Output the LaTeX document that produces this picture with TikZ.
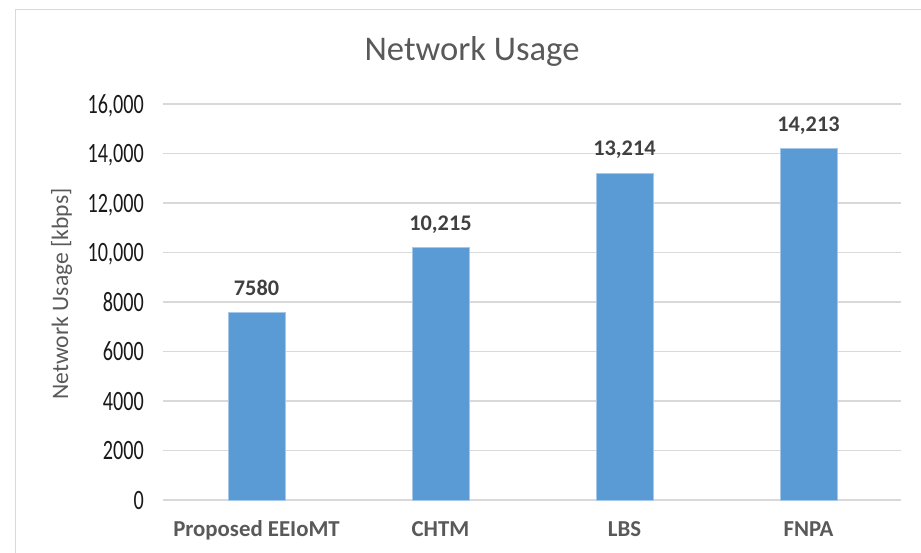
\documentclass[tikz,border=0pt]{standalone}
\usepackage{fontspec}
\setmainfont{Carlito}
\usepackage{tikz}
\usetikzlibrary{positioning}
\definecolor{barblue}{HTML}{5B9BD5}
\definecolor{gridgray}{HTML}{D9D9D9}
\definecolor{txtgray}{HTML}{595959}
\definecolor{valgray}{HTML}{404040}
\tikzset{
  framln/.style  = {draw=gridgray, line width=1pt},
  gridln/.style  = {draw=gridgray, line width=1.3pt},
  colbar/.style  = {fill=barblue, draw=barblue!55!white, line width=0.6pt},
  ticklab/.style = {anchor=base east, inner sep=0pt, text=black!90,
                    font=\fontsize{28}{32}\selectfont},
  vallab/.style  = {anchor=base, inner sep=0pt, text=valgray,
                    font=\fontsize{22.3}{26}\selectfont\bfseries},
  catlab/.style  = {anchor=base, inner sep=0pt, text=txtgray,
                    font=\fontsize{22.8}{26}\selectfont\bfseries},
  ttl/.style     = {anchor=base, inner sep=0pt, text=txtgray,
                    font=\fontsize{34.6}{40}\selectfont},
  axlab/.style   = {anchor=base, inner sep=0pt, rotate=90, text=txtgray,
                    font=\fontsize{23.6}{28}\selectfont},
}
% one column: name, centre x, value, value text, category
\newcommand{\usagebar}[5]{%
  \pgfmathsetmacro{\bartop}{500-#3*0.02475}
  \draw[colbar] (#2-28.5,500) rectangle (#2+28.5,\bartop);
  \node[vallab] (#1val) at (#2,\bartop-17) {#4};
  \node[catlab] (#1cat) at (#2,536) {#5};
}

\begin{document}
\begin{tikzpicture}[x=1pt, y=-1pt]
  \useasboundingbox (0,0) rectangle (921,553);
  \draw[framln] (15,553) -- (15,10) -- (921,10);

  \node[ttl] (title) at (472,61) {Network Usage};
  \node[axlab] (ylab) at (68,294) {Network Usage [kbps]};

  \foreach \v/\t in {0/0, 2000/2000, 4000/4000, 6000/6000, 8000/8000,
                     10000/{10,000}, 12000/{12,000}, 14000/{14,000}, 16000/{16,000}} {
    \pgfmathsetmacro{\gy}{500-\v*0.02475}
    \coordinate (gl\v) at (163,\gy);
    \coordinate (gr\v) at (901,\gy);
    \draw[gridln] (gl\v) -- (gr\v);
    \node[ticklab] (tk\v) at (144,\gy+9) {\scalebox{0.72}[1]{\t}};
  }

  \usagebar{ee}{256.5}{7580}{7580}{Proposed EEIoMT}
  \usagebar{ch}{440.5}{10215}{10,215}{CHTM}
  \usagebar{lb}{624.5}{13214}{13,214}{LBS}
  \usagebar{fn}{808.5}{14213}{14,213}{FNPA}
\end{tikzpicture}
\end{document}
